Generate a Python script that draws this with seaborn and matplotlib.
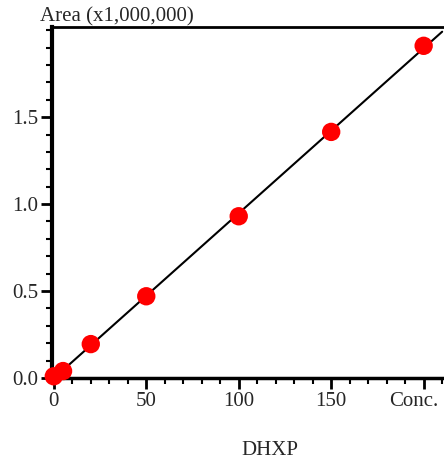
import matplotlib
matplotlib.use("Agg")
import matplotlib.pyplot as plt
import matplotlib.transforms as mtransforms
import seaborn as sns
import numpy as np
import pandas as pd
from matplotlib.ticker import MultipleLocator

conc = [0, 5, 20, 50, 100, 150, 200]
area = [0.01, 0.04, 0.195, 0.47, 0.93, 1.415, 1.91]
xtick_vals = [0, 50, 100, 150, 200]
xtick_labels = ["0", "50", "100", "150", "Conc."]
ytick_vals = [0.0, 0.5, 1.0, 1.5]
ytick_labels = ["0.0", "0.5", "1.0", "1.5"]

sns.set_style("white")
plt.rcParams['font.family'] = ['Liberation Serif', 'DejaVu Serif']

df = pd.DataFrame({"conc": conc, "area": area})

fig = plt.figure(figsize=(4.44, 4.69), dpi=100)
ax = fig.add_axes([0.117, 0.194, 0.883, 0.748])

sns.regplot(data=df, x="conc", y="area", ax=ax, ci=None, truncate=False,
            scatter_kws=dict(s=175, color="#ff0000", edgecolor="none", alpha=1,
                             zorder=3, clip_on=False),
            line_kws=dict(color="black", lw=1.5, zorder=2))

ax.set_xlim(-1, 211)
ax.set_ylim(0, 2.017)
ax.set_xticks(xtick_vals)
ax.set_xticklabels(xtick_labels)
ax.set_yticks(ytick_vals)
ax.set_yticklabels(ytick_labels)
ax.xaxis.set_minor_locator(MultipleLocator(10))
ax.yaxis.set_minor_locator(MultipleLocator(0.1))
ax.tick_params(axis="both", which="major", direction="out", length=8, width=2,
               labelsize=15, color="black", pad=2)
ax.tick_params(axis="both", which="minor", direction="out", length=4, width=1.5,
               color="black")
ax.tick_params(bottom=True, left=True, which="both")
ax.set_xlabel("")
ax.set_ylabel("")
for s in ["left", "bottom", "top"]:
    ax.spines[s].set_visible(True)
    ax.spines[s].set_color("black")
ax.spines["left"].set_linewidth(3)
ax.spines["bottom"].set_linewidth(2.5)
ax.spines["top"].set_linewidth(2)
ax.spines["right"].set_visible(False)

# shift the last ("Conc.") label left so it fits like in the reference
last = ax.get_xticklabels()[-1]
last.set_transform(last.get_transform() +
                   mtransforms.ScaledTranslation(-10 / 100, 0, fig.dpi_scale_trans))

fig.text(0.09, 0.965, "Area (x1,000,000)", fontsize=15, ha="left", va="center")
fig.text(0.608, 0.04, "DHXP", fontsize=15, ha="center", va="center")

fig.savefig("out.png", dpi=100)
